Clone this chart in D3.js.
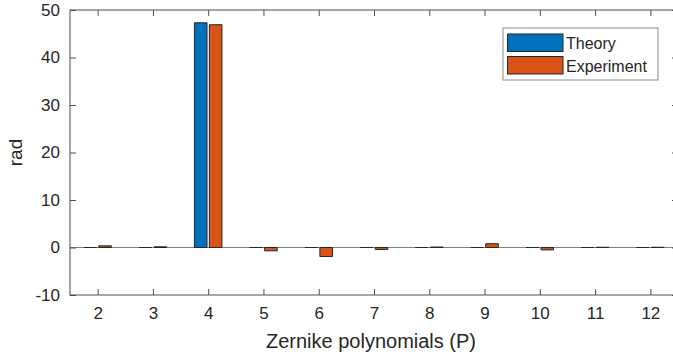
<!DOCTYPE html>
<html>
<head>
<meta charset="utf-8">
<script src="https://cdn.jsdelivr.net/npm/d3@7"></script>
<style>
  body { margin: 0; background: #fff; }
  text { font-family: "Liberation Sans", Arial, sans-serif; fill: #262626; }
</style>
</head>
<body>
<div id="chart"></div>
<script>
// Zernike index and coefficients (rad)
const terms = [2, 3, 4, 5, 6, 7, 8, 9, 10, 11, 12];
const theory = [0, 0, 47.3, 0, 0, 0, 0, 0, 0, 0, 0];
const experiment = [0.35, 0.15, 46.9, -0.7, -1.9, -0.4, 0.1, 0.8, -0.5, 0.05, 0.05];
const seriesNames = ['Theory', 'Experiment'];
const seriesColors = ['#0072BD', '#D95319'];
const yTicks = [-10, 0, 10, 20, 30, 40, 50];

const width = 673, height = 361;
const margin = { top: 10, right: -5, bottom: 66, left: 70 };
const innerWidth = width - margin.left - margin.right;
const innerHeight = height - margin.top - margin.bottom;

const svg = d3.select('#chart')
  .append('svg')
  .attr('width', width)
  .attr('height', height)
  .style('display', 'block');

const g = svg.append('g')
  .attr('transform', `translate(${margin.left},${margin.top})`);

const x = d3.scaleLinear().domain([1.5, 12.5]).range([0, innerWidth]);
const y = d3.scaleLinear().domain([-10, 50]).range([innerHeight, 0]);

const axisColor = '#4d4d4d';
const tickLen = 6;
const fmt = d => String(d);

// baseline at zero (under the bars so flat bars show as dark dashes)
g.append('line')
  .attr('x1', 0).attr('x2', innerWidth)
  .attr('y1', y(0)).attr('y2', y(0))
  .attr('stroke', '#808080')
  .attr('stroke-width', 1.2);

// bars (paths so zero-height bars still show an edge line)
const offsets = [-0.135, 0.135];
const barW = 0.228;
const series = [theory, experiment];
series.forEach((vals, si) => {
  g.append('g').selectAll('path')
    .data(vals.map((v, i) => ({ t: terms[i], v })))
    .enter()
    .append('path')
    .attr('d', d => {
      const x0 = x(d.t + offsets[si] - barW / 2);
      const x1 = x(d.t + offsets[si] + barW / 2);
      const y0 = y(0), y1 = y(d.v);
      return `M${x0},${y0}H${x1}V${y1}H${x0}Z`;
    })
    .attr('fill', seriesColors[si])
    .attr('stroke', '#262626')
    .attr('stroke-width', 1);
});

// box
g.append('rect')
  .attr('x', 0).attr('y', 0)
  .attr('width', innerWidth).attr('height', innerHeight)
  .attr('fill', 'none')
  .attr('stroke', axisColor)
  .attr('stroke-width', 1);

// x axis (bottom), inward ticks
const xAxis = g.append('g')
  .attr('transform', `translate(0,${innerHeight})`)
  .call(d3.axisBottom(x).tickValues(terms).tickFormat(fmt)
    .tickSizeInner(-tickLen).tickSizeOuter(0).tickPadding(12));
xAxis.select('.domain').remove();
xAxis.selectAll('line').attr('stroke', axisColor);
xAxis.selectAll('text').attr('font-size', 17).attr('fill', '#262626');

// top ticks (no labels)
g.append('g')
  .call(d3.axisTop(x).tickValues(terms)
    .tickSizeInner(-tickLen).tickSizeOuter(0))
  .call(a => a.select('.domain').remove())
  .call(a => a.selectAll('text').remove())
  .selectAll('line').attr('stroke', axisColor);

// y axis (left)
const yAxis = g.append('g')
  .call(d3.axisLeft(y).tickValues(yTicks).tickFormat(fmt)
    .tickSizeInner(-tickLen).tickSizeOuter(0).tickPadding(10));
yAxis.select('.domain').remove();
yAxis.selectAll('line').attr('stroke', axisColor);
yAxis.selectAll('text').attr('font-size', 17).attr('fill', '#262626');

// right ticks (no labels)
g.append('g')
  .attr('transform', `translate(${innerWidth},0)`)
  .call(d3.axisRight(y).tickValues(yTicks)
    .tickSizeInner(-tickLen).tickSizeOuter(0))
  .call(a => a.select('.domain').remove())
  .call(a => a.selectAll('text').remove())
  .selectAll('line').attr('stroke', axisColor);

// axis labels
svg.append('text')
  .attr('x', margin.left + innerWidth / 2 - 3)
  .attr('y', 348)
  .attr('text-anchor', 'middle')
  .attr('font-size', 20)
  .text('Zernike polynomials (P)');

svg.append('text')
  .attr('transform', `translate(22,${margin.top + innerHeight / 2}) rotate(-90)`)
  .attr('text-anchor', 'middle')
  .attr('font-size', 19)
  .text('rad');

// legend
const legend = svg.append('g').attr('transform', 'translate(503,28)');
legend.append('rect')
  .attr('width', 155).attr('height', 52)
  .attr('fill', '#fff')
  .attr('stroke', '#8c8c8c')
  .attr('stroke-width', 1);
seriesNames.forEach((name, i) => {
  legend.append('rect')
    .attr('x', 4.5).attr('y', 6 + i * 22.5)
    .attr('width', 55.5).attr('height', 17.5)
    .attr('fill', seriesColors[i])
    .attr('stroke', '#262626')
    .attr('stroke-width', 1);
  legend.append('text')
    .attr('x', 63).attr('y', 21 + i * 22.5)
    .attr('font-size', 16)
    .text(name);
});
</script>
</body>
</html>
